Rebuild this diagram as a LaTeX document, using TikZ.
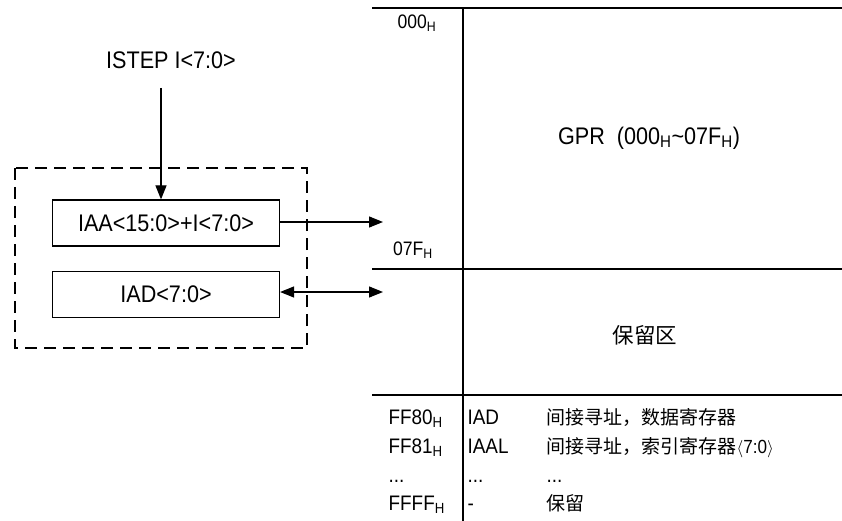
\documentclass[tikz,border=0pt]{standalone}
\usepackage{fontspec}
\setmainfont{Liberation Sans}[FakeStretch=0.9]
\newfontfamily\cjk{Noto Sans CJK SC}
\usetikzlibrary{arrows.meta,positioning}

\tikzset{
  reg/.style={draw,line width=1.2pt,minimum width=227pt,minimum height=46pt,inner sep=0pt,font=\fontsize{24}{28}\selectfont},
  big/.style={inner sep=0pt,font=\fontsize{24}{28}\selectfont},
  addr/.style={inner sep=0pt,font=\fontsize{19.5}{23}\selectfont},
  row/.style={inner sep=0pt,anchor=base west,font=\fontsize{21}{25}\selectfont},
}

\begin{document}
\begin{tikzpicture}[x=1pt,y=-1pt,line width=1.2pt,>={Triangle[length=14pt,width=11pt]}]
\useasboundingbox (0,0) rectangle (842,521);

% address unit
\node[big] (istep) at (171,60) {ISTEP I<7:0>};
\node[reg] (iaa) at (166,223) {IAA<15:0>+I<7:0>};
\node[reg] (iad) [below=24pt of iaa] {IAD<7:0>};
\draw[dash pattern=on 12pt off 7pt] (15,168) rectangle (307,348);

\coordinate (stepin) at (161,88);
\coordinate (gprin) at (383,222);
\coordinate (rsvin) at (383,292);
\draw[->] (stepin) -- (stepin |- iaa.north);
\draw[->] (iaa.east |- gprin) -- (gprin);
\draw[<->] (iad.east |- rsvin) -- (rsvin);

% memory map
\draw (372,8) -- (842,8);
\draw (372,269) -- (842,269);
\draw (372,395) -- (842,395);
\draw (463,8) -- (463,521);

\node[addr] (a000) at (417,23) {000\textsubscript{H}};
\node[addr] (a07f) at (413,250) {07F\textsubscript{H}};
\node[big] (gpr) at (649,138) {GPR\ \ (000\textsubscript{H}\char`\~07F\textsubscript{H})};
\node[inner sep=0pt,font=\fontsize{21.5}{26}\cjk] (rsv) at (645,335) {保留区};

% special registers
\node[row] (r1a) at (388,424) {FF80\textsubscript{H}};
\node[row] (r1b) at (467,424) {IAD};
\node[row,font=\fontsize{19}{23}\cjk] (r1c) at (546,424) {间接寻址，数据寄存器};
\node[row] (r2a) at (388,453) {FF81\textsubscript{H}};
\node[row] (r2b) at (467,453) {IAAL};
\node[row,font=\fontsize{19}{23}\cjk] (r2c) at (546,453) {间接寻址，索引寄存器{\fontsize{19}{23}\selectfont$\langle$\rmfamily7:0$\rangle$}};
\node[row] (r3a) at (388,482) {...};
\node[row] (r3b) at (467,482) {...};
\node[row] (r3c) at (546,482) {...};
\node[row] (r4a) at (388,510) {FFFF\textsubscript{H}};
\node[row] (r4b) at (467,510) {-};
\node[row,font=\fontsize{19}{23}\cjk] (r4c) at (546,510) {保留};
\end{tikzpicture}
\end{document}
